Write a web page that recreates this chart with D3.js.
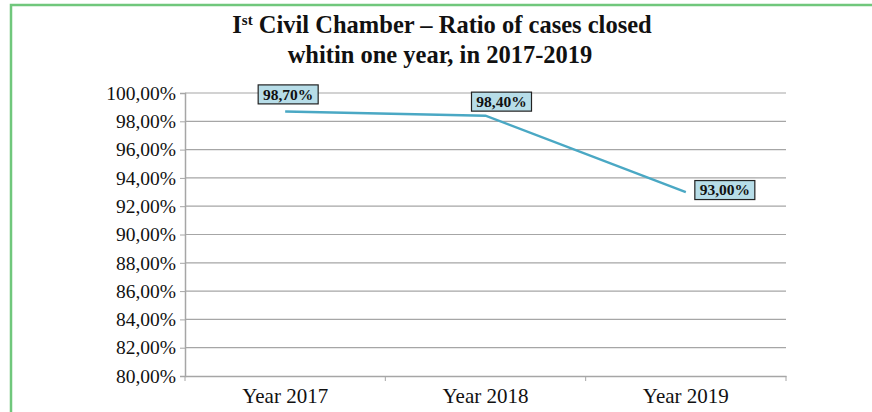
<!DOCTYPE html>
<html>
<head>
<meta charset="utf-8">
<script src="https://cdn.jsdelivr.net/npm/d3@7"></script>
<style>
  html, body { margin: 0; padding: 0; background: #fff; }
  svg { display: block; }
</style>
</head>
<body>
<svg id="chart" width="872" height="412"></svg>
<script>
// Ratio of cases closed within one year, per year
const categories = ["Year 2017", "Year 2018", "Year 2019"];
const ratios = [98.70, 98.40, 93.00];
const labels = ["98,70%", "98,40%", "93,00%"];
const yTicks = [80, 82, 84, 86, 88, 90, 92, 94, 96, 98, 100];

const svg = d3.select("#chart");
const serif = "'Liberation Serif', 'DejaVu Serif', serif";

// outer frame
svg.append("rect")
  .attr("x", 11).attr("y", 5).attr("width", 880).attr("height", 420)
  .attr("fill", "none").attr("stroke", "#70c77c").attr("stroke-width", 2.5);

const plot = { left: 185, right: 786, top: 93, bottom: 376 };

const x = d3.scaleBand().domain(categories).range([plot.left, plot.right]);
const y = d3.scaleLinear().domain([80, 100]).range([plot.bottom, plot.top]);

// title
const title = svg.append("text")
  .attr("text-anchor", "middle")
  .attr("font-family", serif).attr("font-weight", "bold")
  .attr("font-size", 24.5).attr("fill", "#111");
const l1 = title.append("tspan").attr("x", 442).attr("y", 33);
l1.append("tspan").text("I");
l1.append("tspan").attr("font-size", 15).attr("dy", -8).text("st");
l1.append("tspan").attr("dy", 8).text(" Civil Chamber – Ratio of cases closed");
title.append("tspan").attr("x", 440).attr("y", 63).text("whitin one year, in 2017-2019");

// gridlines
svg.append("g")
  .selectAll("line").data(yTicks.slice(1)).join("line")
  .attr("x1", plot.left).attr("x2", plot.right)
  .attr("y1", d => y(d)).attr("y2", d => y(d))
  .attr("stroke", "#a6a6a6").attr("stroke-width", 1.2);

// y axis
const yAxis = svg.append("g")
  .attr("transform", `translate(${plot.left},0)`)
  .call(d3.axisLeft(y).tickValues(yTicks).tickSize(5).tickPadding(4)
    .tickFormat(d => d3.format(".2f")(d).replace(".", ",") + "%"));
yAxis.select(".domain").attr("stroke", "#a6a6a6").attr("stroke-width", 1.5);
yAxis.selectAll(".tick line").attr("stroke", "#a6a6a6");
yAxis.selectAll("text").attr("font-family", serif).attr("font-size", 19.5).attr("fill", "#111");

// x axis
const xAxis = svg.append("g")
  .attr("transform", `translate(0,${plot.bottom})`)
  .call(d3.axisBottom(x).tickSize(0).tickPadding(12));
xAxis.select(".domain").attr("stroke", "#a6a6a6").attr("stroke-width", 1.5);
xAxis.selectAll("text").attr("font-family", serif).attr("font-size", 21).attr("fill", "#111");
// category boundary tick marks
const edges = categories.map(c => x(c)).concat([plot.right]);
xAxis.append("g").selectAll("line").data(edges).join("line")
  .attr("x1", d => d).attr("x2", d => d)
  .attr("y1", 0).attr("y2", 5)
  .attr("stroke", "#a6a6a6");

// line
const cx = c => x(c) + x.bandwidth() / 2;
const line = d3.line().x((d, i) => cx(categories[i])).y(d => y(d));
svg.append("path").datum(ratios)
  .attr("d", line)
  .attr("fill", "none").attr("stroke", "#4aa8c4").attr("stroke-width", 2.5);

// value labels
const offsets = [[3, -17], [16, -14], [39, -2]];
const lab = svg.append("g").selectAll("g").data(ratios).join("g")
  .attr("transform", (d, i) => `translate(${cx(categories[i]) + offsets[i][0]},${y(d) + offsets[i][1]})`);
lab.append("rect")
  .attr("x", -30).attr("y", -9.5).attr("width", 60).attr("height", 19)
  .attr("fill", "#b7dde8").attr("stroke", "#222").attr("stroke-width", 1.2);
lab.append("text")
  .attr("text-anchor", "middle").attr("dy", "0.35em")
  .attr("font-family", serif).attr("font-weight", "bold").attr("font-size", 15.5)
  .attr("fill", "#111")
  .text((d, i) => labels[i]);
</script>
</body>
</html>
